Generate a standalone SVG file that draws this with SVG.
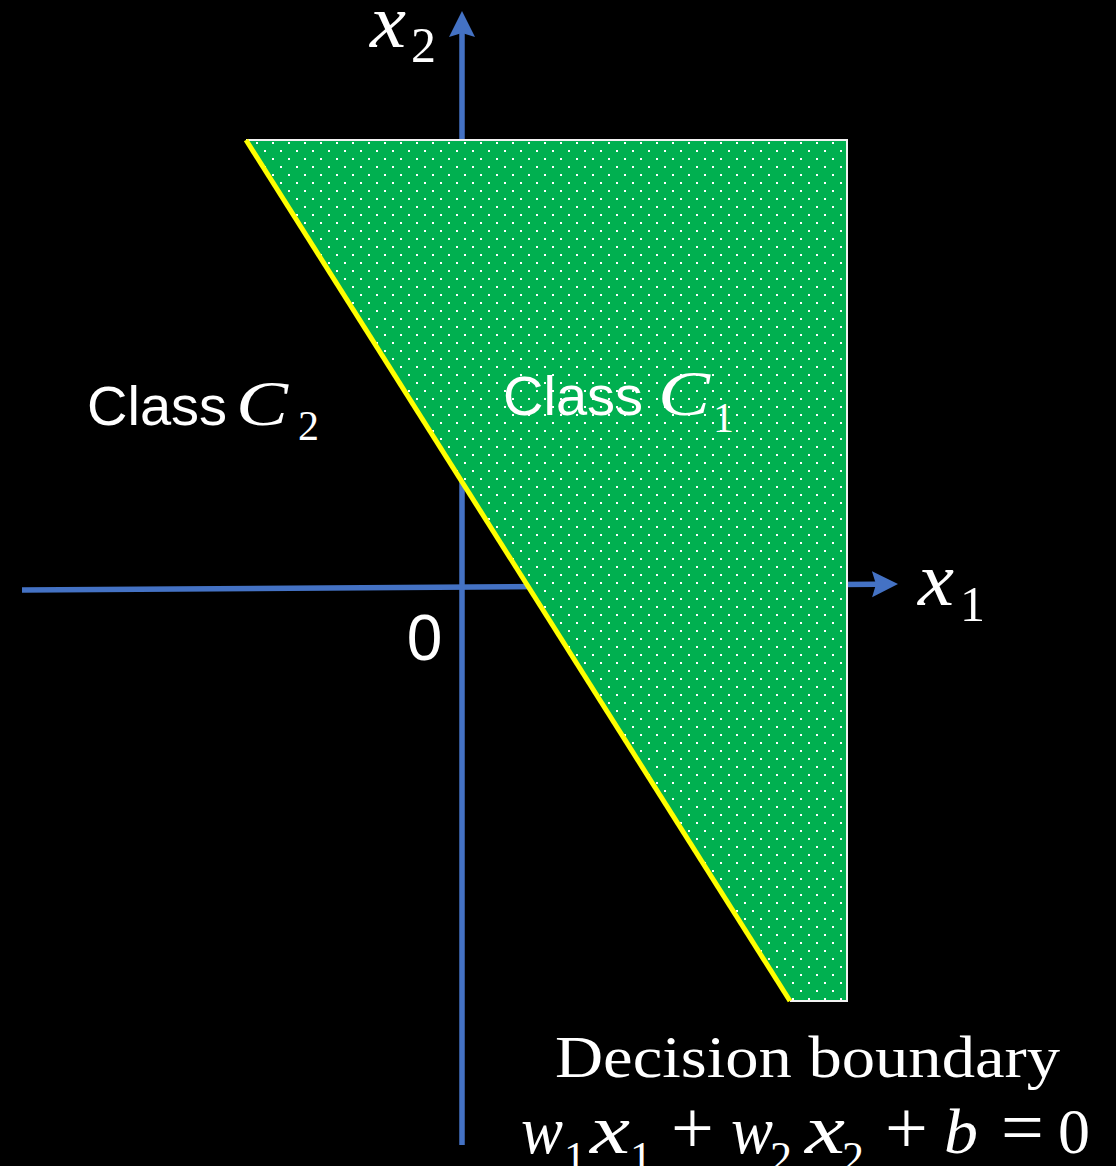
<svg xmlns="http://www.w3.org/2000/svg" width="1116" height="1166" viewBox="0 0 1116 1166">
  <style>
    .axis { stroke: #4472C4; stroke-width: 5.5; fill: none; }
    .sans { font-family: "Liberation Sans", Arial, sans-serif; fill: #FFFFFF; }
    .serif { font-family: "Liberation Serif", "Times New Roman", serif; fill: #FFFFFF; }
    .it { font-style: italic; }
  </style>
  <defs>
    <pattern id="dots" patternUnits="userSpaceOnUse" x="0" y="0" width="16" height="16">
      <rect x="0" y="14" width="2" height="2" fill="#FFFFFF"/>
      <rect x="8" y="6" width="2" height="2" fill="#FFFFFF"/>
    </pattern>
    <marker id="arrow" markerUnits="userSpaceOnUse" markerWidth="30" markerHeight="30" refX="4" refY="13" orient="auto">
      <path d="M0,0 L26,13 L0,26 L4,13 Z" fill="#4472C4"/>
    </marker>
  </defs>
  <rect x="0" y="0" width="1116" height="1166" fill="#000000"/>

  <g id="connectors">
    <line id="axis-x2" class="axis" x1="462" y1="1145" x2="462" y2="33" marker-end="url(#arrow)"/>
    <line id="axis-x1" class="axis" x1="22" y1="590" x2="876" y2="584.2" marker-end="url(#arrow)"/>
  </g>

  <g id="region-c1">
    <polygon points="246,140 847,140 847,1001 790,1001" fill="#00B050"/>
    <polygon points="246,140 847,140 847,1001 790,1001" fill="url(#dots)"/>
    <polyline points="246,140 847,140 847,1001 790,1001" fill="none" stroke="#F2F2F2" stroke-width="2"/>
  </g>

  <g id="decision-boundary">
    <line x1="246" y1="140" x2="790" y2="1001" stroke="#FFFF00" stroke-width="5"/>
  </g>

  <g id="label-x2">
    <text class="serif it" x="370" y="47" font-size="76" textLength="36" lengthAdjust="spacingAndGlyphs">x</text>
    <text class="serif" x="411" y="62" font-size="50">2</text>
  </g>

  <g id="label-x1">
    <text class="serif it" x="918" y="605" font-size="76" textLength="36" lengthAdjust="spacingAndGlyphs">x</text>
    <text class="serif" x="960" y="621" font-size="50">1</text>
  </g>

  <g id="label-origin">
    <text class="sans" x="424.5" y="660" font-size="64" text-anchor="middle">0</text>
  </g>

  <g id="label-class2">
    <text class="sans" x="87" y="425" font-size="56">Class</text>
    <text class="serif it" x="236" y="425" font-size="64" textLength="52" lengthAdjust="spacingAndGlyphs">C</text>
    <text class="serif" x="298" y="440" font-size="42">2</text>
  </g>

  <g id="label-class1">
    <text class="sans" x="503" y="415" font-size="56">Class</text>
    <text class="serif it" x="658" y="415" font-size="64" textLength="52" lengthAdjust="spacingAndGlyphs">C</text>
    <text class="serif" x="713" y="432" font-size="42">1</text>
  </g>

  <g id="label-boundary">
    <text class="serif" x="807.5" y="1077" font-size="59" text-anchor="middle" textLength="505" lengthAdjust="spacingAndGlyphs">Decision boundary</text>
    <text class="serif it" x="521" y="1153" font-size="68" textLength="42" lengthAdjust="spacingAndGlyphs">w</text>
    <text class="serif" x="564" y="1172" font-size="44">1</text>
    <text class="serif it" x="590" y="1153" font-size="70" textLength="40" lengthAdjust="spacingAndGlyphs">x</text>
    <text class="serif" x="630" y="1172" font-size="44">1</text>
    <text class="serif" x="671" y="1153" font-size="76">+</text>
    <text class="serif it" x="731" y="1153" font-size="68" textLength="42" lengthAdjust="spacingAndGlyphs">w</text>
    <text class="serif" x="770" y="1172" font-size="44">2</text>
    <text class="serif it" x="805" y="1153" font-size="70" textLength="40" lengthAdjust="spacingAndGlyphs">x</text>
    <text class="serif" x="842" y="1172" font-size="44">2</text>
    <text class="serif" x="885" y="1153" font-size="76">+</text>
    <text class="serif it" x="944" y="1153" font-size="64" textLength="34" lengthAdjust="spacingAndGlyphs">b</text>
    <text class="serif" x="1001" y="1153" font-size="76">=</text>
    <text class="serif" x="1058" y="1153" font-size="64">0</text>
  </g>
</svg>
